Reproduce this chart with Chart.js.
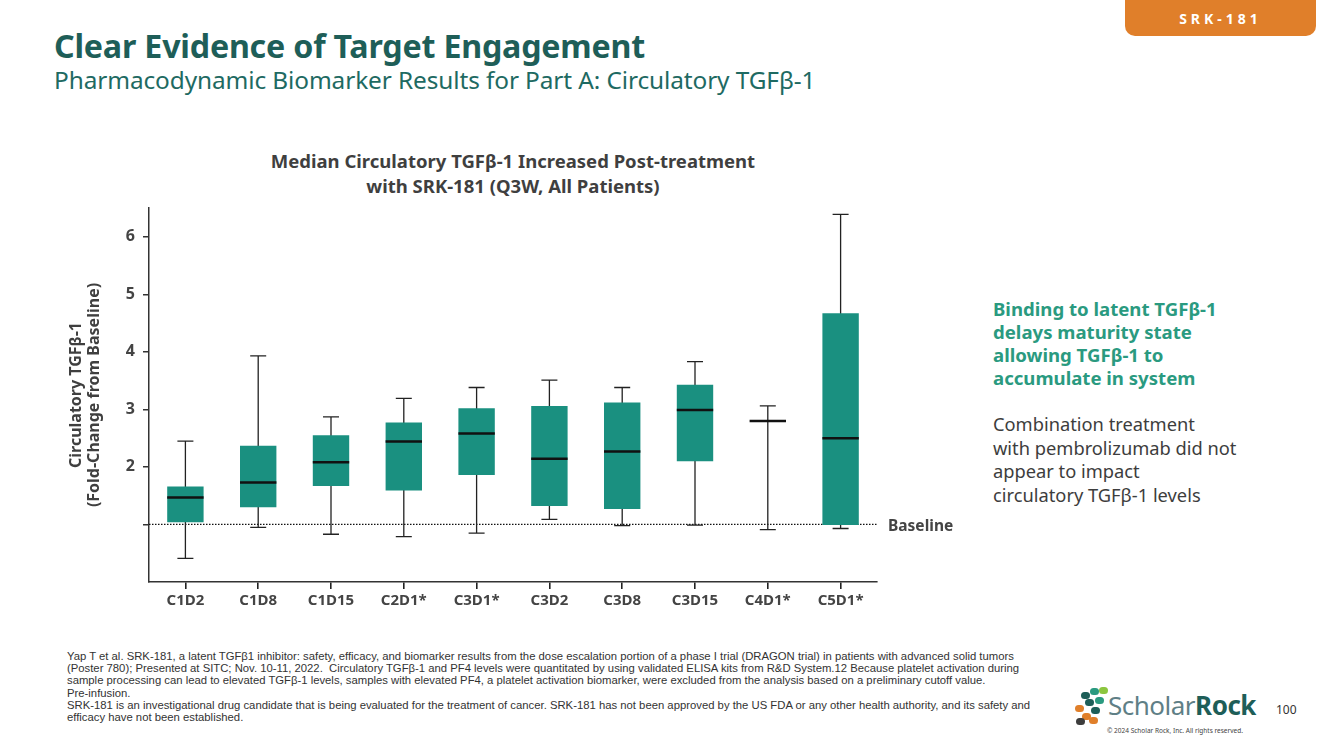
<!DOCTYPE html>
<html>
<head>
<meta charset="utf-8">
<script src="https://cdn.jsdelivr.net/npm/chart.js@4"></script>
<style>
  body { margin: 0; width: 1333px; height: 749px; background: #fff; position: relative; overflow: hidden; font-family: "Noto Sans", sans-serif; }
  .abs { position: absolute; white-space: nowrap; }
  #tab { left: 1125px; top: -10px; width: 191px; height: 46px; background: #e07f2a; border-radius: 10px; color: #fff; font-weight: bold; font-size: 14px; letter-spacing: 4px; text-align: center; line-height: 16px; padding-top: 21px; box-sizing: border-box; }
  #heading { left: 54px; top: 24px; font-size: 32.2px; font-weight: bold; color: #1e5e58; letter-spacing: -0.2px; }
  #subheading { left: 54px; top: 63px; font-size: 24.4px; color: #1e6a62; letter-spacing: -0.1px; }
  #chartTitle { left: 213px; top: 148px; width: 600px; text-align: center; font-size: 18.5px; font-weight: bold; color: #3f3f3f; line-height: 25px; }
  #wrap { position: absolute; left: 55px; top: 140px; width: 910px; height: 480px; }
  #green { left: 993px; top: 297px; font-size: 18.6px; font-weight: bold; color: #2a9a80; line-height: 23px; }
  #gray { left: 993px; top: 412px; font-size: 18.3px; color: #3d3d3d; line-height: 23.5px; }
  #foot { left: 67px; top: 650px; font-family: "Liberation Sans Narrow", sans-serif; font-size: 11.3px; color: #333; line-height: 12.2px; }
  #logo { left: 1075px; top: 688px; }
  .dot { position: absolute; width: 9px; height: 7px; border-radius: 4px; }
  #brand { left: 1108px; top: 687px; font-size: 26px; color: #5f7f86; letter-spacing: -0.5px; }
  #brand b { color: #1e5e58; }
  #page { left: 1276px; top: 701px; font-size: 12px; color: #333; }
  #copy { left: 1107px; top: 726px; font-size: 6.5px; color: #444; }
</style>
</head>
<body>
<div id="tab" class="abs">SRK-181</div>
<div id="heading" class="abs">Clear Evidence of Target Engagement</div>
<div id="subheading" class="abs">Pharmacodynamic Biomarker Results for Part A: Circulatory TGFβ-1</div>
<div id="chartTitle" class="abs">Median Circulatory TGFβ-1 Increased Post-treatment<br>with SRK-181 (Q3W, All Patients)</div>
<div id="wrap"><canvas id="boxChart"></canvas></div>
<div id="green" class="abs">Binding to latent TGFβ-1<br>delays maturity state<br>allowing TGFβ-1 to<br>accumulate in system</div>
<div id="gray" class="abs">Combination treatment<br>with pembrolizumab did not<br>appear to impact<br>circulatory TGFβ-1 levels</div>
<div id="foot" class="abs">Yap T et al. SRK-181, a latent TGFβ1 inhibitor: safety, efficacy, and biomarker results from the dose escalation portion of a phase I trial (DRAGON trial) in patients with advanced solid tumors<br>(Poster 780); Presented at SITC; Nov. 10-11, 2022.&nbsp; Circulatory TGFβ-1 and PF4 levels were quantitated by using validated ELISA kits from R&amp;D System.12 Because platelet activation during<br>sample processing can lead to elevated TGFβ-1 levels, samples with elevated PF4, a platelet activation biomarker, were excluded from the analysis based on a preliminary cutoff value.<br>Pre-infusion.<br>SRK-181 is an investigational drug candidate that is being evaluated for the treatment of cancer. SRK-181 has not been approved by the US FDA or any other health authority, and its safety and<br>efficacy have not been established.</div>
<div id="logo" class="abs">
  <div class="dot" style="left:6px;top:4px;background:#1e5e58"></div>
  <div class="dot" style="left:15px;top:0px;background:#2a9a80"></div>
  <div class="dot" style="left:24px;top:-1px;background:#8cc63f"></div>
  <div class="dot" style="left:10px;top:11px;background:#1e5e58"></div>
  <div class="dot" style="left:20px;top:9px;background:#2a9a80"></div>
  <div class="dot" style="left:0px;top:17px;background:#e07f2a"></div>
  <div class="dot" style="left:16px;top:19px;background:#1e5e58"></div>
  <div class="dot" style="left:7px;top:25px;background:#e07f2a"></div>
  <div class="dot" style="left:1px;top:30px;background:#3d3d3d"></div>
  <div class="dot" style="left:14px;top:29px;background:#e07f2a"></div>
</div>
<div id="brand" class="abs">Scholar<b>Rock</b></div>
<div id="page" class="abs">100</div>
<div id="copy" class="abs">© 2024 Scholar Rock, Inc. All rights reserved.</div>

<script>
const categories = ["C1D2", "C1D8", "C1D15", "C2D1*", "C3D1*", "C3D2", "C3D8", "C3D15", "C4D1*", "C5D1*"];
const whiskerLow = [0.41, 0.95, 0.83, 0.79, 0.85, 1.09, 0.98, 0.99, 0.91, 0.93];
const q1 = [1.04, 1.30, 1.67, 1.59, 1.86, 1.32, 1.27, 2.10, 2.80, 0.99];
const median = [1.47, 1.73, 2.08, 2.44, 2.58, 2.14, 2.27, 2.99, 2.80, 2.50];
const q3 = [1.66, 2.37, 2.55, 2.77, 3.02, 3.06, 3.12, 3.43, 2.80, 4.67];
const whiskerHigh = [2.45, 3.93, 2.87, 3.19, 3.38, 3.51, 3.38, 3.83, 3.06, 6.39];
const yTicks = [1, 2, 3, 4, 5, 6];
const baselineValue = 1;

const axisColor = "#333";
const boxColor = "#1a9080";

// whiskers + baseline under the boxes, medians on top
const boxPlot = {
  id: "boxPlot",
  beforeDatasetsDraw(chart) {
    const { ctx, chartArea, scales: { x, y } } = chart;
    const by = y.getPixelForValue(baselineValue);
    ctx.save();
    ctx.strokeStyle = "#111";
    ctx.lineWidth = 1.2;
    ctx.setLineDash([1.5, 1.5]);
    ctx.beginPath();
    ctx.moveTo(chartArea.left, by);
    ctx.lineTo(chartArea.right, by);
    ctx.stroke();
    ctx.setLineDash([]);
    ctx.fillStyle = "#444";
    ctx.font = "bold 15.5px 'Noto Sans'";
    ctx.textBaseline = "middle";
    ctx.fillText("Baseline", chartArea.right + 11, by + 2);

    ctx.strokeStyle = "#222";
    ctx.lineWidth = 1.3;
    categories.forEach((c, i) => {
      const cx = x.getPixelForValue(i);
      const lo = y.getPixelForValue(whiskerLow[i]);
      const hi = y.getPixelForValue(whiskerHigh[i]);
      ctx.beginPath();
      ctx.moveTo(cx, lo); ctx.lineTo(cx, hi);
      ctx.moveTo(cx - 8, lo); ctx.lineTo(cx + 8, lo);
      ctx.moveTo(cx - 8, hi); ctx.lineTo(cx + 8, hi);
      ctx.stroke();
    });
    ctx.restore();
  },
  afterDatasetsDraw(chart) {
    const { ctx, scales: { y } } = chart;
    const meta = chart.getDatasetMeta(0);
    ctx.save();
    ctx.strokeStyle = "#111";
    ctx.lineWidth = 2.5;
    meta.data.forEach((bar, i) => {
      const my = y.getPixelForValue(median[i]);
      ctx.beginPath();
      ctx.moveTo(bar.x - bar.width / 2, my);
      ctx.lineTo(bar.x + bar.width / 2, my);
      ctx.stroke();
    });
    ctx.restore();
  }
};

new Chart(document.getElementById("boxChart"), {
  type: "bar",
  data: {
    labels: categories,
    datasets: [{
      data: categories.map((c, i) => [q1[i], q3[i]]),
      backgroundColor: boxColor,
      borderWidth: 0,
      categoryPercentage: 1,
      barPercentage: 0.5,
      borderSkipped: false
    }]
  },
  options: {
    responsive: true,
    maintainAspectRatio: false,
    animation: false,
    layout: { padding: { top: 68, right: 88, left: 0, bottom: 0 } },
    plugins: { legend: { display: false }, tooltip: { enabled: false } },
    scales: {
      x: {
        afterFit: (s) => { s.height = 38; },
        grid: { display: true, offset: false, drawOnChartArea: false, drawTicks: true, tickLength: 7, color: "#222", tickColor: "#222", tickWidth: 1.6, lineWidth: 1.6 },
        border: { display: true, color: axisColor, width: 1.5 },
        ticks: { color: "#444", font: { family: "Noto Sans", size: 15, weight: "bold" }, padding: 3 }
      },
      y: {
        min: 0,
        max: 6.5,
        afterFit: (s) => { s.width = 94; },
        afterBuildTicks: (s) => { s.ticks = yTicks.map(v => ({ value: v })); },
        grid: { display: true, drawOnChartArea: false, drawTicks: true, tickLength: 6, color: axisColor, lineWidth: 1.5 },
        border: { display: true, color: axisColor, width: 1.5 },
        ticks: {
          color: "#444",
          font: { family: "Noto Sans", size: 16, weight: "bold" },
          padding: 8,
          callback: (v) => (v === baselineValue ? "" : v)
        },
        title: {
          display: true,
          text: ["Circulatory TGFβ-1", "(Fold-Change from Baseline)"],
          color: "#3f3f3f",
          font: { family: "Noto Sans", size: 16, weight: "bold", lineHeight: 1.1 },
          padding: { top: 13, bottom: 0 }
        }
      }
    }
  },
  plugins: [boxPlot]
});
</script>
</body>
</html>
